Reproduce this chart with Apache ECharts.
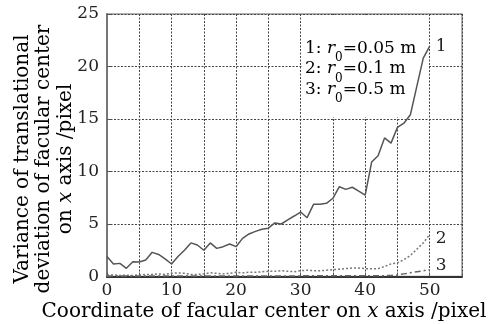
<!DOCTYPE html>
<html><head><meta charset="utf-8">
<script src="https://cdn.jsdelivr.net/npm/echarts@6/dist/echarts.min.js"></script>
<style>html,body{margin:0;padding:0;background:#fff}#c{width:490px;height:324px}</style>
</head><body><div id="c"></div>
<script>
const xValues = [0,1,2,3,4,5,6,7,8,9,10,11,12,13,14,15,16,17,18,19,20,21,22,23,24,25,26,27,28,29,30,31,32,33,34,35,36,37,38,39,40,41,42,43,44,45,46,47,48,49,50];
const series1 = [1.9,1.19,1.25,0.78,1.4,1.38,1.57,2.3,2.1,1.67,1.19,1.9,2.5,3.2,3.0,2.5,3.2,2.68,2.84,3.1,2.84,3.63,4.05,4.3,4.5,4.6,5.1,5.0,5.4,5.76,6.14,5.6,6.87,6.87,6.97,7.45,8.55,8.3,8.5,8.14,7.76,10.9,11.5,13.2,12.7,14.2,14.6,15.4,18.1,20.8,21.95];
const series2 = [0.15,0.15,0.1,0.12,0.1,0.15,0.2,0.2,0.25,0.2,0.3,0.35,0.3,0.2,0.2,0.25,0.35,0.3,0.25,0.3,0.4,0.35,0.4,0.4,0.45,0.5,0.5,0.55,0.5,0.45,0.55,0.6,0.55,0.55,0.6,0.65,0.7,0.75,0.8,0.8,0.75,0.75,0.75,0.95,1.2,1.3,1.6,2.0,2.6,3.2,4.0];
const series3 = [0.05,0.05,0.05,0.05,0.05,0.05,0.05,0.05,0.05,0.05,0.05,0.05,0.05,0.05,0.05,0.05,0.05,0.05,0.05,0.05,0.05,0.05,0.05,0.05,0.05,0.05,0.05,0.05,0.05,0.05,0.06,0.06,0.06,0.06,0.06,0.07,0.07,0.07,0.07,0.07,0.08,0.08,0.08,0.08,0.1,0.15,0.25,0.35,0.45,0.55,0.65];
const xTicks = [0,10,20,30,40,50];
const yTicks = [0,5,10,15,20,25];
const legendLines = [["1","0.05 m"],["2","0.1 m"],["3","0.5 m"]];
const curveLabels = ["1","2","3"];
const xTitle = ["Coordinate of facular center on ","x"," axis /pixel"];
const yTitle = ["Variance of translational","deviation of facular center",["on ","x"," axis /pixel"]];

const FONT = 'DejaVu Serif';
const chart = echarts.init(document.getElementById('c'));
const pair = s => xValues.map((x,i)=>[x,s[i]]);
const gl = {left:107, right:28, top:14, bottom:47.5};
const plotW = 490-gl.left-gl.right, plotH = 324-gl.top-gl.bottom;
const px = x => gl.left + x/55*plotW;
const py = y => gl.top + (25-y)/25*plotH;

const rich = {
  n:{fontFamily:FONT,fontSize:17,color:'#222',lineHeight:20},
  i:{fontFamily:FONT,fontSize:17,color:'#222',fontStyle:'italic',lineHeight:20},
  s:{fontFamily:FONT,fontSize:12,color:'#222',lineHeight:4,padding:[19,0,0,0]}
};
const richT = {
  n:{fontFamily:FONT,fontSize:20,color:'#222',lineHeight:22},
  i:{fontFamily:FONT,fontSize:20,color:'#222',fontStyle:'italic',lineHeight:22}
};
const graphics = [
  {type:'rect',z:1,shape:{x:px(30)+1.5,y:gl.top+1,width:px(50)-px(30)-3,height:py(15)-gl.top-3},style:{fill:'#fff'}},
];
legendLines.forEach((l,k)=>{
  graphics.push({type:'text',z:5,left:305,top:33+k*20.5,style:{rich:rich,text:`{n|${l[0]}: }{i|r}{s|0}{n|=${l[1]}}`}});
});
graphics.push({type:'text',z:5,x:px(50)+6,y:py(series1[50])+1,style:{text:curveLabels[0],font:`17px "${FONT}"`,fill:'#222',verticalAlign:'middle'}});
graphics.push({type:'text',z:5,x:px(50)+6,y:py(series2[50])+4,style:{text:curveLabels[1],font:`17px "${FONT}"`,fill:'#222',verticalAlign:'middle'}});
graphics.push({type:'text',z:5,x:px(50)+6,y:py(series3[50])-4,style:{text:curveLabels[2],font:`17px "${FONT}"`,fill:'#222',verticalAlign:'middle'}});
graphics.push({type:'text',z:5,x:264,y:312,style:{rich:richT,text:`{n|${xTitle[0]}}{i|${xTitle[1]}}{n|${xTitle[2]}}`,align:'center',verticalAlign:'middle'}});
[23,44,65.5].forEach((cx,k)=>{
  const t = yTitle[k];
  const txt = Array.isArray(t) ? `{n|${t[0]}}{i|${t[1]}}{n|${t[2]}}` : `{n|${t}}`;
  graphics.push({type:'text',z:5,x:cx,y:159,rotation:Math.PI/2,style:{rich:richT,text:txt,align:'center',verticalAlign:'middle'}});
});

chart.setOption({
  animation:false,
  backgroundColor:'#fff',
  grid:{left:gl.left,right:gl.right,top:gl.top,bottom:gl.bottom,show:true,borderColor:'#999',borderWidth:1.5,backgroundColor:'transparent'},
  xAxis:{type:'value',min:0,max:55,interval:5,
    axisLine:{show:true,lineStyle:{color:'#333',width:2}},
    axisTick:{show:true,inside:true,length:4,lineStyle:{color:'#555'}},
    splitLine:{show:true,lineStyle:{color:'#444',type:[2,1.5],width:1}},
    axisLabel:{fontFamily:FONT,fontSize:17,color:'#222',margin:6,
      formatter:v=>xTicks.indexOf(v)>=0?String(v):''}},
  yAxis:{type:'value',min:0,max:25,interval:5,
    axisLine:{show:true,lineStyle:{color:'#777',width:2}},
    axisTick:{show:true,inside:true,length:4,lineStyle:{color:'#555'}},
    splitLine:{show:true,lineStyle:{color:'#444',type:[2,1.5],width:1}},
    axisLabel:{fontFamily:FONT,fontSize:17,color:'#222',margin:8,padding:[6,0,0,0],
      formatter:v=>yTicks.indexOf(v)>=0?String(v):''}},
  series:[
    {type:'line',data:pair(series1),showSymbol:false,z:3,lineStyle:{color:'#555',width:1.5}},
    {type:'line',data:pair(series2),showSymbol:false,z:3,lineStyle:{color:'#777',width:1.5,type:[2,2]}},
    {type:'line',data:pair(series3),showSymbol:false,z:3,lineStyle:{color:'#666',width:1.5,type:[6,3,2,3]}}
  ],
  graphic:graphics
});
</script></body></html>
